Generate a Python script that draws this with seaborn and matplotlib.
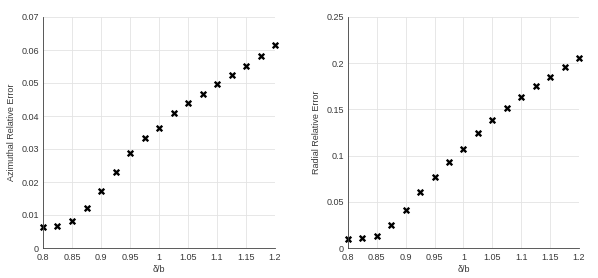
import matplotlib
matplotlib.use("Agg")
import matplotlib.pyplot as plt
import seaborn as sns
import pandas as pd

ratio = [0.8, 0.825, 0.85, 0.875, 0.9, 0.925, 0.95, 0.975, 1.0, 1.025, 1.05,
         1.075, 1.1, 1.125, 1.15, 1.175, 1.2]
azimuthal_err = [0.0064, 0.0066, 0.0082, 0.0120, 0.0172, 0.0230, 0.0289, 0.0333,
                 0.0364, 0.0408, 0.0440, 0.0468, 0.0496, 0.0523, 0.0551, 0.0581, 0.0614]
radial_err = [0.0101, 0.0108, 0.0129, 0.0248, 0.0414, 0.0601, 0.0773, 0.0935,
              0.1068, 0.1245, 0.1380, 0.1514, 0.1637, 0.1752, 0.1853, 0.1960, 0.2054]
x_ticks = [0.8, 0.85, 0.9, 0.95, 1.0, 1.05, 1.1, 1.15, 1.2]
x_tick_labels = ["0.8", "0.85", "0.9", "0.95", "1", "1.05", "1.1", "1.15", "1.2"]
az_ticks = [0, 0.01, 0.02, 0.03, 0.04, 0.05, 0.06, 0.07]
az_tick_labels = ["0", "0.01", "0.02", "0.03", "0.04", "0.05", "0.06", "0.07"]
rad_ticks = [0, 0.05, 0.1, 0.15, 0.2, 0.25]
rad_tick_labels = ["0", "0.05", "0.1", "0.15", "0.2", "0.25"]

df = pd.DataFrame({"ratio": ratio, "az": azimuthal_err, "rad": radial_err})

sns.set_theme(style="whitegrid")
plt.rcParams['font.family'] = ['Liberation Sans', 'DejaVu Sans']

fig = plt.figure(figsize=(5.98, 2.78), dpi=100)
W, H = 598, 278
ax1 = fig.add_axes([43 / W, 1 - 248 / H, (275 - 43) / W, (248 - 17) / H])
ax2 = fig.add_axes([348 / W, 1 - 248 / H, (579 - 348) / W, (248 - 17) / H])

textc = "#383838"
fs = 6.5
for ax, col, ticks, tlabels, ylim, ylabel in [
    (ax1, "az", az_ticks, az_tick_labels, (0, 0.07), "Azimuthal Relative Error"),
    (ax2, "rad", rad_ticks, rad_tick_labels, (0, 0.25), "Radial Relative Error"),
]:
    sns.scatterplot(data=df, x="ratio", y=col, ax=ax, marker="x", color="black",
                    s=16, linewidth=1.7, legend=False)
    ax.set_xlim(0.8, 1.2)
    ax.set_ylim(*ylim)
    ax.set_xticks(x_ticks)
    ax.set_xticklabels(x_tick_labels)
    ax.set_yticks(ticks)
    ax.set_yticklabels(tlabels)
    ax.set_xlabel("δ/b", fontsize=fs, color=textc, labelpad=2)
    ax.set_ylabel(ylabel, fontsize=fs, color=textc, labelpad=4)
    ax.tick_params(axis="both", labelsize=fs, colors=textc, direction="in",
                   length=2.5, width=0.6)
    ax.tick_params(axis="x", pad=3.5)
    ax.tick_params(axis="y", pad=3)
    ax.grid(True, color="#e3e3e3", linewidth=0.6)
    ax.set_facecolor("white")
    for s in ["top", "right"]:
        ax.spines[s].set_visible(False)
    for s in ["left", "bottom"]:
        ax.spines[s].set_visible(True)
        ax.spines[s].set_color("#404040")
        ax.spines[s].set_linewidth(0.6)
    for m in ax.collections:
        m.set_clip_on(False)

fig.savefig("out.png", dpi=100, facecolor="white")
